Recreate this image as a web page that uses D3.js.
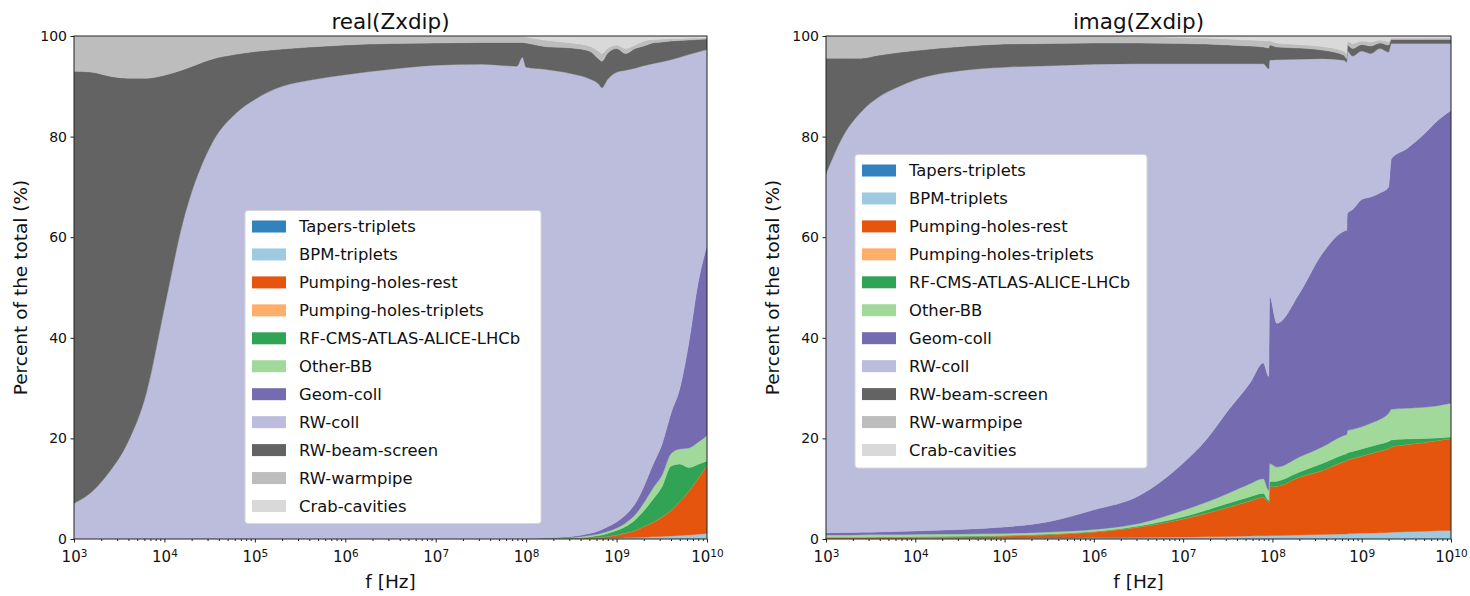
<!DOCTYPE html>
<html>
<head>
<meta charset="utf-8">
<script src="https://cdn.jsdelivr.net/npm/d3@7/dist/d3.min.js"></script>
<style>
  body { margin: 0; background: #fff; }
  text { font-family: "DejaVu Sans", sans-serif; fill: #111; }
</style>
</head>
<body>
<svg id="chart" width="1470" height="596"></svg>
<script>
// stack order, bottom to top
const seriesNames = ['Tapers-triplets', 'BPM-triplets', 'Pumping-holes-rest', 'Pumping-holes-triplets',
  'RF-CMS-ATLAS-ALICE-LHCb', 'Other-BB', 'Geom-coll', 'RW-coll', 'RW-beam-screen', 'RW-warmpipe', 'Crab-cavities']
const seriesColors = ['#3182bd', '#9ecae1', '#e6550d', '#fdae6b', '#31a354', '#a1d99b',
  '#756bb1', '#bcbddc', '#636363', '#bdbdbd', '#d9d9d9']

const yTicks = [0, 20, 40, 60, 80, 100]
const xDecades = [1e3, 1e4, 1e5, 1e6, 1e7, 1e8, 1e9, 1e10]

// ---- real(Zxdip): share of each contribution in % ----
const freqReal = [1e3, 1.6e3, 2.5e3, 4e3, 6.3e3, 1e4, 1.6e4, 3.2e4, 6.3e4, 1e5, 2e5, 4e5, 1e6, 3.2e6, 1e7, 3.2e7,
  7.9e7, 9.1e7, 1e8, 1.6e8, 3.2e8, 5e8, 6.3e8, 6.9e8, 7.9e8, 1e9, 1.26e9, 1.6e9, 2e9, 2.5e9, 3.2e9, 4e9, 5e9, 6.3e9, 7.9e9, 1e10]
const realTapers = [0,0,0,0,0,0,0,0,0,0,0,0,0,0,0,0, 0,0,0,0,0,0,0,0,0,0,0,0,0,0,.05,.05,.05,.1,.1,.1]
const realBpm = [0,0,0,0,0,0,0,0,0,0,0,0,0,0,0,0, 0,0,0,0,.05,.1,.1,.1,.15,.2,.25,.3,.35,.45,.45,.55,.65,.7,.85,1.0]
const realPumpRest = [0,0,0,0,0,0,0,0,0,0,0,0,0,0,0,0, 0,0,0,.05,.05,.1,.25,.3,.35,.6,.95,1.4,2.15,2.85,3.9,5.1,6.8,8.7,11.05,13.5]
const realPumpTrip = [0,0,0,0,0,0,0,0,0,0,0,0,0,0,0,0, 0,0,0,0,0,0,0,0,0,0,0,0,0,0,0,0,0,0,0,0]
const realRf = [0,0,0,0,0,0,0,0,0,0,0,0,0,0,0,0, 0,0,0,0,.1,.2,.35,.4,.6,.9,1.3,2.1,3.1,4.5,6.1,8.8,7.4,4.7,2.8,.9]
const realOtherBB = [0,0,0,0,0,0,0,0,0,0,0,0,0,0,0,0, 0,0,0,.05,.1,.3,.3,.4,.4,.5,.7,1.0,1.6,2.2,2.3,2.5,3.0,3.9,4.4,5.1]
const realGeom = [0,0,0,0,0,0,0,0,0,0,0,0,0,0,0,0, 0,0,0,.1,.2,.4,.6,.7,.9,1.2,1.6,2.2,3.2,4.6,6.2,8.0,12.0,20.9,31.3,37.8]
const realRwColl = [7.1,9.5,13.5,19.5,29,46,63,78,84.8,87.4,90,91.2,92.3,93.4,94.2,94.4,
  94.0,95.8,93.8,93.2,92.0,90.4,88.9,87.8,88.9,89.4,88.4,86.6,83.7,79.9,75.9,70.3,65.9,57.3,46.3,38.9]
const realBeamScreen = [85.9,83.3,78.5,72.1,62.6,46.2,30.3,17.3,11.6,9.5,7.4,6.6,5.9,5.1,4.4,4.3,
  4.7,2.9,4.8,4.5,5.1,5.5,5.0,5.3,5.2,4.7,3.3,3.9,3.9,4.1,3.9,3.7,3.3,2.9,2.5,2.1]
const realWarmpipe = [7.0,7.2,8.0,8.4,8.4,7.8,6.7,4.7,3.6,3.1,2.6,2.2,1.8,1.5,1.4,1.3,
  1.3,1.2,1.2,1.3,1.0,1.0,1.5,1.5,1.0,.7,1.0,.7,1.0,.7,.6,.5,.4,.4,.3,.3]
const realCrab = [0,0,0,0,0,0,0,0,0,0,0,0,0,0,0,0,
  0,.1,.2,.7,1.4,2.0,3.0,3.5,2.5,1.8,2.5,1.8,1.0,.7,.6,.5,.5,.4,.4,.3]

// ---- imag(Zxdip) ----
const freqImag = [1e3, 1.6e3, 2.5e3, 4e3, 6.3e3, 1e4, 3.2e4, 1e5, 3.2e5, 1e6, 3.2e6, 1e7, 1.8e7, 3.2e7, 5.6e7, 7.9e7,
  9.1e7, 9.3e7, 1.12e8, 2e8, 3.6e8, 6.3e8, 6.8e8, 6.9e8, 7.9e8, 1e9, 1.26e9, 1.6e9, 2e9, 2.15e9, 3.2e9, 5e9, 7.1e9, 1e10]
const imagTapers = [.05,.05,.05,.05,.05,.05,.05,.05,.05,.05,.05,.05,.05,.05,.05,.05,
  .05,.05,.05,.05,.05,.05,.05,.05,.05,.05,.05,.05,.05,.05,.05,.05,.05,.05]
const imagBpm = [.05,.05,.05,.05,.05,.1,.1,.1,.15,.2,.25,.35,.4,.45,.55,.6,
  .6,.65,.65,.75,.85,.95,.95,1.0,1.05,1.1,1.15,1.2,1.25,1.3,1.4,1.5,1.6,1.65]
const imagPumpRest = [.2,.2,.2,.2,.25,.2,.3,.45,.7,1.15,2.1,3.6,4.65,5.8,7.0,7.65,
  6.65,9.7,9.8,11.5,12.7,14.4,14.6,14.65,14.9,15.35,15.8,16.25,16.7,16.95,17.35,17.65,17.95,18.3]
const imagPumpTrip = [0,0,0,0,0,0,0,0,0,0,0,0,0,0,0,0, 0,0,0,0,0,0,0,0,0,0,0,0,0,0,0,0,0,0]
const imagRf = [.05,.05,.05,.1,.05,.1,.1,.1,.1,.1,.2,.4,.6,.8,.8,.8,
  .4,1.0,1.0,1.0,1.4,1.4,1.4,1.4,1.4,1.4,1.4,1.4,1.4,1.4,1.1,.8,.5,.3]
const imagOtherBB = [.45,.45,.5,.5,.5,.5,.45,.4,.4,.4,.5,1.3,1.6,2.0,2.6,2.9,
  2.0,3.6,2.8,3.0,3.3,3.8,3.8,4.4,4.4,4.4,4.6,4.9,5.6,6.1,6.1,6.2,6.4,6.7]
const imagGeom = [.45,.5,.5,.5,.6,.65,.9,1.3,2.1,3.9,5.5,9.4,12.4,16.5,20.0,23.0,
  22.6,33.2,28.6,32.5,38.4,40.6,40.6,43.2,43.7,45.2,45.0,45.0,45.0,49.8,51.6,54.3,56.7,58.2]
const imagRwColl = [71.35,79.2,83.65,86.6,88.3,89.7,91.2,91.4,90.6,88.6,85.9,79.4,74.8,68.9,63.5,59.5,
  61.2,47.0,52.4,46.6,38.8,34.0,33.4,32.3,30.5,29.5,28.5,28.7,26.8,22.9,20.9,18.0,15.3,13.3]
const imagBeamScreen = [23.0,15.1,10.6,8.2,6.9,5.8,4.8,4.6,4.4,4.2,4.1,4.0,3.9,3.7,3.5,3.3,
  4.1,3.0,2.5,2.2,1.7,1.0,.7,1.2,1.5,1.3,1.5,1.1,1.4,.8,.8,.8,.8,.8]
const imagWarmpipe = [4.4,4.4,4.4,3.8,3.3,2.9,2.1,1.6,1.5,1.4,1.3,1.2,1.2,1.2,1.2,1.3,
  1.4,.8,.8,.7,.7,.8,1.0,.8,1.0,.7,.8,.6,.7,.3,.3,.3,.3,.3]
const imagCrab = [0,0,0,0,0,0,0,0,0,0,.1,.3,.4,.6,.8,.9,
  1.0,1.0,1.4,1.7,2.1,3.0,3.5,1.0,1.5,1.0,1.2,.8,1.1,.4,.4,.4,.4,.4]

const realSeries = [realTapers, realBpm, realPumpRest, realPumpTrip, realRf, realOtherBB,
  realGeom, realRwColl, realBeamScreen, realWarmpipe, realCrab]
const imagSeries = [imagTapers, imagBpm, imagPumpRest, imagPumpTrip, imagRf, imagOtherBB,
  imagGeom, imagRwColl, imagBeamScreen, imagWarmpipe, imagCrab]

const svg = d3.select('#chart')

function drawPanel(p) {
  const xScale = d3.scaleLog().domain([1e3, 1e10]).range([p.left, p.right])
  const yScale = d3.scaleLinear().domain([0, 100]).range([p.bottom, p.top])

  const rows = p.freq.map((f, i) => {
    const row = {f: f}
    seriesNames.forEach((name, k) => { row[name] = p.series[k][i] })
    return row
  })
  const stacked = d3.stack().keys(seriesNames)(rows)

  const area = d3.area()
    .curve(d3.curveMonotoneX)
    .x(d => xScale(d.data.f))
    .y0(d => yScale(d[0]))
    .y1(d => yScale(d[1]))

  const clipId = 'clip-' + p.name
  svg.append('clipPath').attr('id', clipId)
    .append('rect')
    .attr('x', p.left).attr('y', p.top)
    .attr('width', p.right - p.left).attr('height', p.bottom - p.top)

  const g = svg.append('g').attr('clip-path', `url(#${clipId})`)
  g.selectAll('path')
    .data(stacked)
    .enter()
    .append('path')
    .attr('d', area)
    .attr('fill', (d, i) => seriesColors[i])
    .attr('stroke', (d, i) => seriesColors[i])
    .attr('stroke-width', 0.4)

  // frame
  svg.append('rect')
    .attr('x', p.left).attr('y', p.top)
    .attr('width', p.right - p.left).attr('height', p.bottom - p.top)
    .attr('fill', 'none').attr('stroke', '#222').attr('stroke-width', 1)

  // y axis
  const yAxis = d3.axisLeft(yScale).tickValues(yTicks).tickSize(3.5).tickPadding(3.5).tickFormat(d3.format('d'))
  const yAxisGroup = svg.append('g').attr('transform', `translate(${p.left}, 0)`).call(yAxis)
  yAxisGroup.select('.domain').remove()
  yAxisGroup.selectAll('text').attr('font-size', '14px').attr('font-family', 'DejaVu Sans')

  // x axis: minor ticks then decades
  const minor = xScale.ticks().filter(v => !xDecades.includes(v))
  const xMinor = d3.axisBottom(xScale).tickValues(minor).tickSize(2).tickFormat('')
  const xMinorGroup = svg.append('g').attr('transform', `translate(0, ${p.bottom})`).call(xMinor)
  xMinorGroup.select('.domain').remove()

  const xAxis = d3.axisBottom(xScale).tickValues(xDecades).tickSize(3.5).tickPadding(4).tickFormat('')
  const xAxisGroup = svg.append('g').attr('transform', `translate(0, ${p.bottom})`).call(xAxis)
  xAxisGroup.select('.domain').remove()
  xAxisGroup.selectAll('.tick').each(function(d) {
    const t = d3.select(this).select('text')
    t.attr('font-size', '15px').attr('y', 12).attr('dy', '0.71em')
    t.append('tspan').text('10')
    t.append('tspan').text(Math.round(Math.log10(d))).attr('font-size', '10.5px').attr('dy', '-0.45em')
  })
  svg.selectAll('.tick line').attr('stroke', '#222')

  // title and labels
  svg.append('text').text(p.title)
    .attr('x', (p.left + p.right) / 2).attr('y', 29)
    .attr('text-anchor', 'middle').attr('font-size', '21.5px')
  svg.append('text').text('f [Hz]')
    .attr('x', (p.left + p.right) / 2).attr('y', 588)
    .attr('text-anchor', 'middle').attr('font-size', '18.5px')
  svg.append('text').text('Percent of the total (%)')
    .attr('transform', `translate(${p.ylabelX}, ${(p.top + p.bottom) / 2}) rotate(-90)`)
    .attr('text-anchor', 'middle').attr('dy', '0.35em').attr('font-size', '18.5px')

  // legend, bottom series of the stack listed first
  const legend = svg.append('g').attr('transform', `translate(${p.legendX}, ${p.legendY})`)
  legend.append('rect')
    .attr('width', p.legendW).attr('height', p.legendH)
    .attr('rx', 3).attr('fill', '#fff')
    .attr('stroke', '#d6d6d6').attr('stroke-width', 1)
  const entries = legend.selectAll('g.entry')
    .data(seriesNames)
    .enter()
    .append('g')
    .attr('transform', (d, i) => `translate(0, ${16 + i * 27.95})`)
  entries.append('rect')
    .attr('x', 7).attr('y', -6).attr('width', 34).attr('height', 12)
    .attr('fill', (d, i) => seriesColors[i])
  entries.append('text').text(d => d)
    .attr('x', 54).attr('dy', '0.36em').attr('font-size', '16.4px')
}

drawPanel({name: 'real', title: 'real(Zxdip)', freq: freqReal, series: realSeries,
  left: 74, right: 707, top: 36, bottom: 539, ylabelX: 21,
  legendX: 245, legendY: 210.5, legendW: 296, legendH: 313})
drawPanel({name: 'imag', title: 'imag(Zxdip)', freq: freqImag, series: imagSeries,
  left: 826, right: 1451, top: 36, bottom: 539, ylabelX: 773,
  legendX: 855, legendY: 154.5, legendW: 292, legendH: 313.5})
</script>
</body>
</html>
